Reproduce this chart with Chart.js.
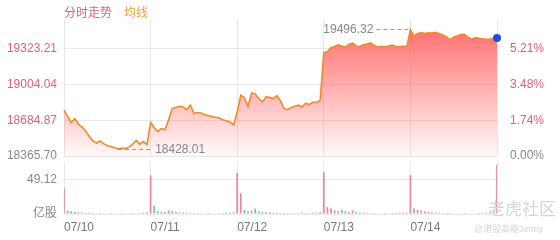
<!DOCTYPE html>
<html>
<head>
<meta charset="utf-8">
<script src="https://cdn.jsdelivr.net/npm/chart.js@4.4.0/dist/chart.umd.min.js"></script>
<style>
body{margin:0;background:#fff;font-family:"Liberation Sans",Arial,"Noto Sans CJK SC",sans-serif;}
#wrap{position:relative;width:560px;height:240px;overflow:hidden}
#price{position:absolute;left:0;top:0}
#vol{position:absolute;left:0;top:158px}
.lg{position:absolute;top:3px;font-size:12px}
.wm{position:absolute;color:#d6d6d6}
</style>
</head>
<body>
<div id="wrap">
<canvas id="price" width="560" height="160"></canvas>
<canvas id="vol" width="560" height="82"></canvas>
<span class="lg" style="left:64px;color:#e0607a">分时走势</span>
<span class="lg" style="left:124px;color:#f0a040">均线</span>
<div class="wm" style="left:488px;top:195px;font-size:17px">老虎社区</div>
<div class="wm" style="left:474px;top:222px;font-size:9px">@港股高能Jenny</div>
</div>
<script>
const dayLabels = ['07/10', '07/11', '07/12', '07/13', '07/14']

const day1 = [18777, 18720, 18665, 18700, 18650, 18625, 18590, 18540, 18500, 18482, 18500, 18475,
              18458, 18450, 18440, 18428.01, 18437, 18432, 18445, 18470, 18505, 18470, 18495, 18468]
const day2 = [18665, 18620, 18585, 18610, 18600, 18690, 18790, 18800, 18810, 18805, 18780, 18822,
              18745, 18755, 18750, 18735, 18728, 18720, 18712, 18706, 18690, 18682, 18670, 18645]
const day3 = [18760, 18910, 18885, 18810, 18930, 18920, 18880, 18850, 18895, 18890, 18880, 18905,
              18860, 18790, 18780, 18800, 18810, 18820, 18805, 18838, 18825, 18848, 18845, 18865]
const day4 = [19290, 19300, 19335, 19345, 19360, 19350, 19340, 19365, 19375, 19350, 19345, 19360,
              19368, 19378, 19355, 19340, 19348, 19342, 19350, 19358, 19345, 19340, 19350, 19345]
const day5 = [19496.32, 19440, 19462, 19470, 19462, 19468, 19465, 19472, 19460, 19448, 19432, 19405,
              19430, 19440, 19452, 19455, 19428, 19410, 19425, 19420, 19415, 19410, 19412, 19418, 19421]

const vol1 = [38, 5, 4, 3, 2.5, 2, 1.5, 2, 1.5, 1, 1.5, 1, 1, 1.5, 1, 1, 1.5, 1, 1, 1.5, 1, 1.5, 2, 2.5]
const vol2 = [56, 12, 4, 3.5, 3, 5, 4, 3, 2.5, 2, 2, 1.5, 1.5, 1.5, 1, 1, 1.5, 1, 1, 1.5, 1.5, 2, 2, 2.5]
const vol3 = [59, 30, 6, 4, 5, 8, 4, 3, 3, 2.5, 2, 2, 1.5, 1.5, 1.5, 1.5, 1, 1.5, 2, 1.5, 1.5, 2, 2, 2.5]
const vol4 = [60, 10, 8, 5, 4, 6, 4, 3, 5, 3, 2, 2, 1.5, 1.5, 1.5, 1, 1, 1.5, 1, 1.5, 1.5, 2, 2, 2]
const vol5 = [56, 8, 6, 5, 4, 3, 2.5, 2, 2, 1.5, 1.5, 1.5, 1, 1, 1, 1.5, 1, 1, 1, 1.5, 1.5, 2, 2.5, 3, 71]

const prevClose = 18365.70
const priceTicks = [18365.70, 18684.87, 19004.04, 19323.21]
const volTicks = [0, 49.12]

const red = '#e0607a'
const grey = '#888'
const gridColor = '#e8e8e8'

Chart.defaults.font.family = '"Liberation Sans", Arial, "Noto Sans CJK SC", sans-serif'
Chart.defaults.font.size = 12

let price = [].concat(day1, day2, day3, day4, day5)
let vol = [].concat(vol1, vol2, vol3, vol4, vol5)
let days = [day1, day2, day3, day4, day5]

let labels = []
let dayStarts = []
days.forEach((d, i) => {
    dayStarts.push(labels.length)
    d.forEach((v, j) => labels.push(j == 0 ? dayLabels[i] : ''))
})
let xTicks = dayStarts.concat([price.length - 1])

let volColors = price.map((p, i) => (i == 0 || p >= price[i - 1]) ? '#ec8a9c' : '#74c2b8')

function pct(v){
    return ((v - prevClose) / prevClose * 100).toFixed(2) + '%'
}

// keep the plot area exactly where it is asked for
function fixBox(w, h){
    return s => {
        if (w != null) s.width = w
        if (h != null) s.height = h
        s.paddingTop = 0
        s.paddingBottom = 0
        s.paddingLeft = 0
        s.paddingRight = 0
    }
}

const marks = {
    id: 'marks',
    afterDatasetsDraw(chart){
        let ctx = chart.ctx
        let xs = chart.scales.x, ys = chart.scales.y
        let hi = price.indexOf(Math.max(...price))
        let lo = price.indexOf(Math.min(...price))
        ctx.save()
        ctx.strokeStyle = '#999'
        ctx.lineWidth = 1
        ctx.setLineDash([4, 3])
        ctx.fillStyle = grey
        ctx.font = '12px "Liberation Sans", Arial, sans-serif'
        ctx.textBaseline = 'middle'

        let hx = xs.getPixelForValue(hi), hy = Math.round(ys.getPixelForValue(price[hi])) - 0.5
        ctx.beginPath()
        ctx.moveTo(hx - 34, hy)
        ctx.lineTo(hx, hy)
        ctx.stroke()
        ctx.textAlign = 'right'
        ctx.fillText(price[hi].toFixed(2), hx - 37, hy)

        let lx = xs.getPixelForValue(lo), ly = Math.round(ys.getPixelForValue(price[lo])) + 0.5
        ctx.beginPath()
        ctx.moveTo(lx, ly)
        ctx.lineTo(lx + 33, ly)
        ctx.stroke()
        ctx.textAlign = 'left'
        ctx.fillText(price[lo].toFixed(2), lx + 37, ly)
        ctx.restore()
    }
}

function priceChart(id){
    let ctx = document.getElementById(id).getContext('2d')
    new Chart(ctx, {
        type: 'line',
        data: {
            labels: labels,
            datasets: [{
                data: price,
                borderColor: '#f08a2a',
                borderWidth: 1.6,
                tension: 0,
                fill: 'start',
                clip: false,
                pointRadius: c => c.dataIndex == price.length - 1 ? 4 : 0,
                pointBackgroundColor: '#1f4fd6',
                pointBorderWidth: 0,
                backgroundColor: c => {
                    let area = c.chart.chartArea
                    if (!area) return 'rgba(255,95,95,0.4)'
                    let g = c.chart.ctx.createLinearGradient(0, area.top, 0, area.bottom)
                    g.addColorStop(0, 'rgba(255,95,95,0.95)')
                    g.addColorStop(1, 'rgba(255,95,95,0.04)')
                    return g
                }
            }]
        },
        options: {
            responsive: false,
            animation: false,
            layout: {padding: {top: 20, bottom: 4, left: 0, right: 0}},
            plugins: {legend: {display: false}, tooltip: {enabled: false}},
            scales: {
                x: {
                    offset: false,
                    afterBuildTicks: s => { s.ticks = xTicks.map(v => ({value: v})) },
                    afterFit: fixBox(null, 0),
                    ticks: {display: false},
                    grid: {color: gridColor, drawTicks: false, offset: false},
                    border: {display: false}
                },
                y: {
                    position: 'left',
                    min: prevClose,
                    max: 19582.6,
                    afterBuildTicks: s => { s.ticks = priceTicks.map(v => ({value: v})) },
                    afterFit: fixBox(64, null),
                    ticks: {
                        padding: 7,
                        color: c => c.tick.value > prevClose + 1 ? red : grey,
                        callback: v => v.toFixed(2)
                    },
                    grid: {color: gridColor, drawTicks: false},
                    border: {display: false}
                },
                yr: {
                    position: 'right',
                    min: prevClose,
                    max: 19582.6,
                    afterBuildTicks: s => { s.ticks = priceTicks.map(v => ({value: v})) },
                    afterFit: fixBox(63, null),
                    ticks: {
                        padding: 5,
                        color: c => c.tick.value > prevClose + 1 ? red : grey,
                        callback: v => pct(v)
                    },
                    grid: {display: false},
                    border: {display: false}
                }
            }
        },
        plugins: [marks]
    })
}

function volChart(id){
    let ctx = document.getElementById(id).getContext('2d')
    new Chart(ctx, {
        type: 'bar',
        data: {
            labels: labels,
            datasets: [{
                data: vol,
                backgroundColor: volColors,
                barPercentage: 0.5,
                categoryPercentage: 1
            }]
        },
        options: {
            responsive: false,
            animation: false,
            layout: {padding: {top: 4, bottom: 0, left: 0, right: 63}},
            plugins: {legend: {display: false}, tooltip: {enabled: false}},
            scales: {
                x: {
                    offset: false,
                    afterBuildTicks: s => { s.ticks = xTicks.map(v => ({value: v})) },
                    afterFit: fixBox(null, 26),
                    ticks: {align: 'start', color: '#777', padding: 6, maxRotation: 0, autoSkip: false},
                    grid: {color: gridColor, drawTicks: false, offset: false},
                    border: {display: false}
                },
                y: {
                    min: 0,
                    max: 75,
                    afterBuildTicks: s => { s.ticks = volTicks.map(v => ({value: v})) },
                    afterFit: fixBox(64, null),
                    ticks: {
                        padding: 7,
                        color: grey,
                        callback: v => v == 0 ? '亿股' : v.toFixed(2)
                    },
                    grid: {color: gridColor, drawTicks: false},
                    border: {display: false}
                }
            }
        }
    })
}

priceChart('price')
volChart('vol')
</script>
</body>
</html>
